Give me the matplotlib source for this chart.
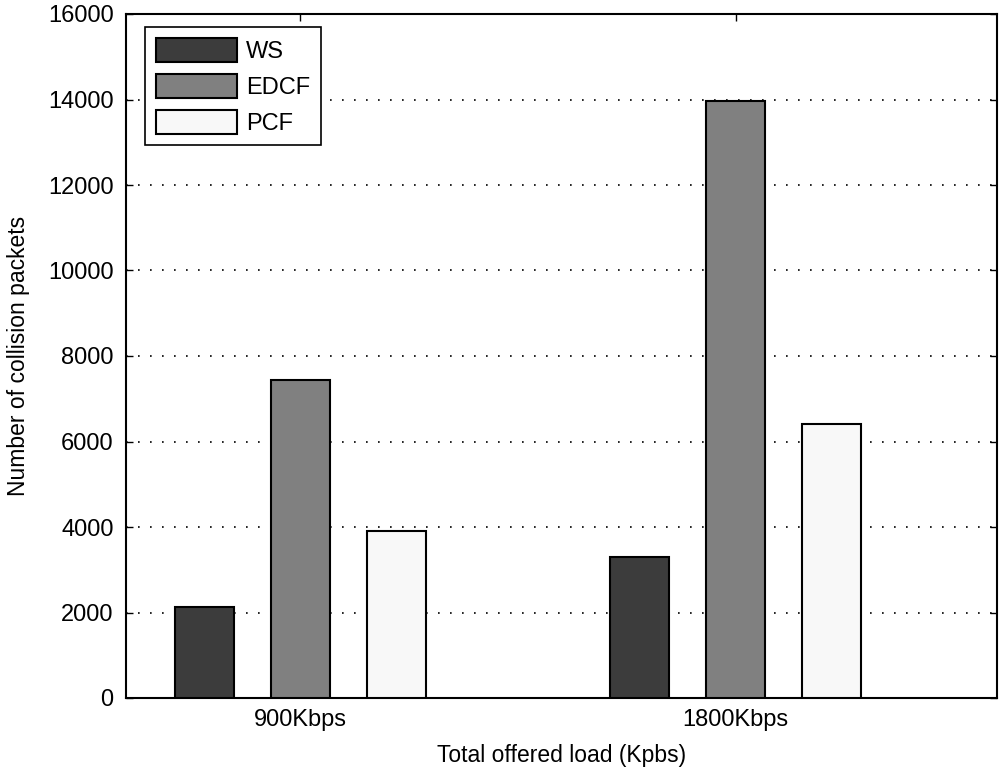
import numpy as np
import matplotlib
matplotlib.use('Agg')
import matplotlib.pyplot as plt

plt.rcParams['font.family'] = ['Liberation Sans', 'DejaVu Sans']

# collision counts per scheme, one value per offered load
loads = ['900Kbps', '1800Kbps']
schemes = ['WS', 'EDCF', 'PCF']
ws = [2140, 3290]
edcf = [7450, 13960]
pcf = [3900, 6420]
colors = ['#3c3c3c', '#808080', '#f8f8f8']

fig = plt.figure(figsize=(10.01, 7.72), dpi=100)
ax = fig.add_axes([126/1001, 74/772, 871/1001, 684/772])

x = np.arange(len(loads))
width = 0.1355
step = 0.2204
for i, (vals, name) in enumerate(zip([ws, edcf, pcf], schemes)):
    ax.bar(x + (i - 1)*step, vals, width, color=colors[i], edgecolor='black',
           linewidth=1.5, label=name, zorder=3)

ax.set_xlim(-0.4, 1.6)
ax.set_ylim(0, 16000)
ax.set_yticks(np.arange(0, 16001, 2000))
ax.set_xticks(x)
ax.set_xticklabels(loads)
ax.tick_params(direction='in', length=5, labelsize=17, top=True, right=True,
               width=1, colors='black')
ax.tick_params(axis='y', pad=9)
ax.tick_params(axis='x', pad=8)
for s in ax.spines.values():
    s.set_linewidth(1.5)

ax.set_axisbelow(True)
ax.yaxis.grid(True, color='black', linestyle=(0, (1, 6.2)), linewidth=1.2)

ax.set_xlabel('Total offered load (Kpbs)', fontsize=16.5, labelpad=9)
ax.set_ylabel('Number of collision packets', fontsize=16.5, labelpad=13)

leg = ax.legend(loc='upper left', bbox_to_anchor=(0.0218, 0.981), borderaxespad=0,
                fontsize=17, handlelength=3.43, handleheight=1.19, labelspacing=0.47,
                handletextpad=0.4, borderpad=0.45, fancybox=False, framealpha=1,
                edgecolor='black')
leg.get_frame().set_linewidth(1.2)

fig.savefig('out.png', dpi=100)
